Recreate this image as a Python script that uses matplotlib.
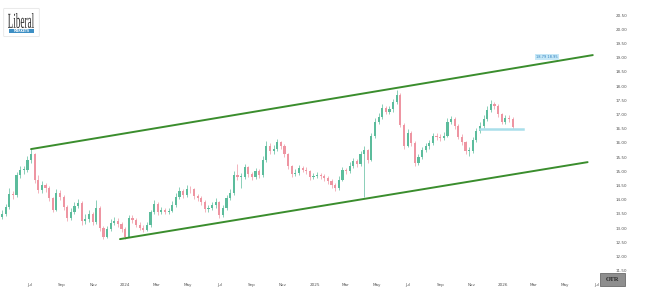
import matplotlib
matplotlib.use("Agg")
import matplotlib.pyplot as plt
import matplotlib.dates as mdates
import matplotlib.patches as mpatches
from matplotlib.ticker import FuncFormatter
from matplotlib.textpath import TextPath
from matplotlib.font_manager import FontProperties
from matplotlib.transforms import Affine2D
import pandas as pd

# ---------------- data ----------------
start_week = "2023-05-08"
closes = [13.50, 13.75, 14.20, 14.15, 14.85, 15.05, 15.05, 15.40, 15.60, 14.70,
          14.34, 14.52, 14.40, 14.05, 13.65, 14.25, 14.10, 13.75, 13.35, 13.55,
          13.78, 13.88, 13.25, 13.30, 13.50, 13.22, 13.70, 13.00, 12.70, 12.95,
          13.18, 13.25, 13.15, 12.95, 12.70, 13.35, 13.28, 13.12, 13.00, 12.93,
          13.10, 13.55, 13.85, 13.55, 13.62, 13.58, 13.60, 13.82, 14.10, 14.30,
          14.16, 14.38, 14.36, 14.12, 14.05, 13.90, 13.66, 13.70, 13.80, 13.90,
          13.45, 13.70, 14.05, 14.23, 14.85, 14.80, 14.80, 15.15, 14.90, 14.80,
          15.00, 14.85, 15.40, 15.90, 15.70, 15.80, 16.03, 15.90, 15.60, 15.17,
          14.90, 14.95, 15.10, 15.06, 15.00, 14.80, 14.82, 14.87, 14.82, 14.76,
          14.66, 14.52, 14.40, 14.70, 15.05, 15.00, 15.20, 15.35, 15.24, 15.60,
          15.75, 15.40, 16.25, 16.75, 16.92, 17.22, 17.10, 17.18, 17.45, 17.70,
          16.63, 15.90, 16.35, 16.00, 15.30, 15.50, 15.75, 15.88, 15.98, 16.25,
          16.20, 16.17, 16.25, 16.75, 16.84, 16.60, 16.22, 16.02, 15.70, 15.72,
          16.10, 16.42, 16.60, 16.85, 17.15, 17.35, 17.30, 17.00, 16.75, 16.86,
          16.85, 16.55]
first_open = 13.40
highs = [13.62, 13.85, 14.40, 14.30, 14.98, 15.20, 15.18, 15.55, 15.78, 15.65,
         14.85, 14.65, 14.60, 14.48, 14.10, 14.38, 14.35, 14.18, 13.80, 13.70,
         13.90, 14.02, 13.95, 13.48, 13.62, 13.58, 13.98, 13.78, 13.08, 13.08,
         13.30, 13.40, 13.35, 13.22, 13.02, 13.45, 13.45, 13.35, 13.20, 13.10,
         13.22, 13.65, 14.00, 13.92, 13.75, 13.72, 13.72, 13.95, 14.22, 14.45,
         14.38, 14.50, 14.48, 14.42, 14.20, 14.12, 13.98, 13.82, 13.92, 14.05,
         13.95, 13.80, 14.15, 14.38, 15.00, 15.25, 14.95, 15.25, 15.20, 14.98,
         15.12, 15.08, 15.52, 16.05, 15.98, 15.92, 16.12, 16.08, 15.95, 15.65,
         15.22, 15.08, 15.22, 15.18, 15.15, 15.05, 14.95, 14.98, 14.95, 14.90,
         14.82, 14.72, 14.58, 14.82, 15.15, 15.12, 15.32, 15.48, 15.42, 15.72,
         15.90, 15.80, 16.35, 16.88, 17.05, 17.35, 17.28, 17.30, 17.55, 17.85,
         17.75, 16.70, 16.48, 16.42, 16.05, 15.62, 15.85, 15.98, 16.10, 16.35,
         16.35, 16.30, 16.38, 16.88, 16.95, 16.90, 16.65, 16.30, 16.08, 15.85,
         16.20, 16.52, 16.72, 16.98, 17.28, 17.50, 17.45, 17.35, 17.05, 16.98,
         16.98, 16.92]
lows = [13.30, 13.42, 13.68, 14.02, 14.08, 14.75, 14.90, 14.98, 15.30, 14.60,
        14.25, 14.22, 14.28, 13.95, 13.55, 13.60, 13.98, 13.65, 13.25, 13.28,
        13.48, 13.70, 13.12, 13.15, 13.22, 13.12, 13.15, 12.90, 12.62, 12.65,
        12.88, 13.10, 13.05, 12.85, 12.62, 12.68, 13.18, 13.02, 12.92, 12.85,
        12.88, 13.05, 13.48, 13.45, 13.48, 13.48, 13.50, 13.55, 13.75, 14.02,
        14.05, 14.10, 14.25, 14.02, 13.95, 13.80, 13.58, 13.58, 13.62, 13.72,
        13.35, 13.40, 13.65, 13.98, 14.18, 14.70, 14.40, 14.72, 14.80, 14.70,
        14.72, 14.75, 14.80, 15.32, 15.60, 15.62, 15.72, 15.80, 15.50, 15.08,
        14.80, 14.82, 14.88, 14.96, 14.90, 14.70, 14.72, 14.75, 14.72, 14.66,
        14.55, 14.42, 14.30, 14.35, 14.65, 14.90, 14.92, 15.12, 15.15, 15.18,
        14.09, 15.30, 15.35, 16.18, 16.65, 16.85, 17.00, 17.02, 17.10, 17.38,
        16.55, 15.80, 15.85, 15.90, 15.20, 15.22, 15.42, 15.68, 15.80, 15.92,
        16.10, 16.05, 16.10, 16.20, 16.68, 16.50, 16.12, 15.92, 15.60, 15.55,
        15.65, 16.02, 16.35, 16.52, 16.78, 17.08, 17.18, 16.90, 16.65, 16.68,
        16.75, 16.48]

upper_dates = ["2023-07-03", "2026-06-23"]
upper_prices = [15.78, 19.09]
lower_dates = ["2023-12-22", "2026-06-13"]
lower_prices = [12.61, 15.32]
level_dates = ["2025-11-17", "2026-02-08"]
level_price = 16.49
label_date = "2026-03-26"
label_price = 19.02
label_text = "18.79 18.95"

y_ticks = [11.5, 12.0, 12.5, 13.0, 13.5, 14.0, 14.5, 15.0, 15.5, 16.0, 16.5,
           17.0, 17.5, 18.0, 18.5, 19.0, 19.5, 20.0, 20.5]
y_limits = (11.275, 21.03)
x_limits = ("2023-05-04", "2026-07-07")

# ---------------- figure ----------------
W, H = 657, 307
fig = plt.figure(figsize=(W / 100, H / 100), dpi=100)
fig.patch.set_facecolor("white")
ax = fig.add_axes([0, 30 / H, 600 / W, 277 / H])
ax.set_facecolor("white")

dates = pd.date_range(start_week, periods=len(closes), freq="W-MON")
opens = [first_open] + closes[:-1]
xd = mdates.date2num(dates.to_pydatetime())

up_col = "#5cbc9c"
dn_col = "#ee95a2"
cols = [up_col if c >= o else dn_col for o, c in zip(opens, closes)]
bottoms = [min(o, c) for o, c in zip(opens, closes)]
heights = [max(abs(c - o), 0.03) for o, c in zip(opens, closes)]

ax.vlines(xd, lows, highs, colors=cols, linewidth=0.5, zorder=2)
ax.bar(xd, heights, bottom=bottoms, width=4.2, color=cols, linewidth=0, zorder=3)

# channel lines
ax.plot(mdates.datestr2num(upper_dates), upper_prices, color="#3a8d2d", lw=1.4, zorder=4,
        solid_capstyle="round")
ax.plot(mdates.datestr2num(lower_dates), lower_prices, color="#3a8d2d", lw=1.4, zorder=4,
        solid_capstyle="round")
ax.plot(mdates.datestr2num(level_dates), [level_price, level_price], color="#a9dfea",
        lw=1.8, zorder=4)
ax.text(mdates.datestr2num(label_date), label_price, label_text, fontsize=2.6,
        color="#2f7fbf", ha="center", va="center", zorder=5,
        bbox=dict(boxstyle="square,pad=0.25", fc="#c6e8f7", ec="none"))

ax.set_xlim(mdates.datestr2num(x_limits[0]), mdates.datestr2num(x_limits[1]))
ax.set_ylim(*y_limits)

# axes styling
for s in ax.spines.values():
    s.set_visible(False)
ax.yaxis.tick_right()
ax.set_yticks(y_ticks)
ax.yaxis.set_major_formatter(FuncFormatter(lambda v, p: f"{v:.2f}"))
ax.tick_params(axis="y", length=0, pad=11, labelsize=3, labelcolor="#555555")
for lbl in ax.get_yticklabels():
    lbl.set_horizontalalignment("left")

ax.xaxis.set_major_locator(mdates.MonthLocator(bymonth=[1, 3, 5, 7, 9, 11]))
def fmt_month(v, p):
    d = mdates.num2date(v)
    return str(d.year) if d.month == 1 else d.strftime("%b")
ax.xaxis.set_major_formatter(FuncFormatter(fmt_month))
ax.tick_params(axis="x", length=0, pad=4, labelsize=3, labelcolor="#555555")
ax.grid(False)

# OTR badge
fig.patches.append(mpatches.Rectangle((600 / W, 1 - 286 / H), 25 / W, 13 / H,
                                      transform=fig.transFigure, fc="#8e8e8e",
                                      ec="#6a6a6a", lw=0.6, zorder=10))
fig.text(612.5 / W, 1 - 279.5 / H, "OTR", fontsize=4.5, fontweight="bold",
         color="#262626", ha="center", va="center", family="Liberation Serif", zorder=11)

# Logo (box, condensed serif wordmark, blue bar)
fig.patches.append(mpatches.FancyBboxPatch((5 / W, 1 - 36 / H), 33 / W, 27 / H,
                                           boxstyle="round,pad=0.002",
                                           transform=fig.transFigure, fc="white",
                                           ec="#e6e6e6", lw=0.6, zorder=10))
tp = TextPath((0, 0), "Liberal", size=10, prop=FontProperties(family="Liberation Serif"))
bb = tp.get_extents()
tr = (Affine2D().translate(-bb.x0, -bb.y0)
      .scale(26 / bb.width, 15 / bb.height)
      .translate(8, H - 28))
fig.add_artist(mpatches.PathPatch(tp, transform=tr, fc="#2b2b2b", ec="none", zorder=11))
fig.patches.append(mpatches.Rectangle((9 / W, 1 - 33 / H), 25 / W, 4 / H,
                                      transform=fig.transFigure, fc="#3d8fc4",
                                      ec="none", zorder=11))
fig.text(21.5 / W, 1 - 31 / H, "MARKETS", fontsize=2.2, color="white", ha="center",
         va="center", zorder=12, fontweight="bold")

fig.savefig("out.png", dpi=100, facecolor="white")
